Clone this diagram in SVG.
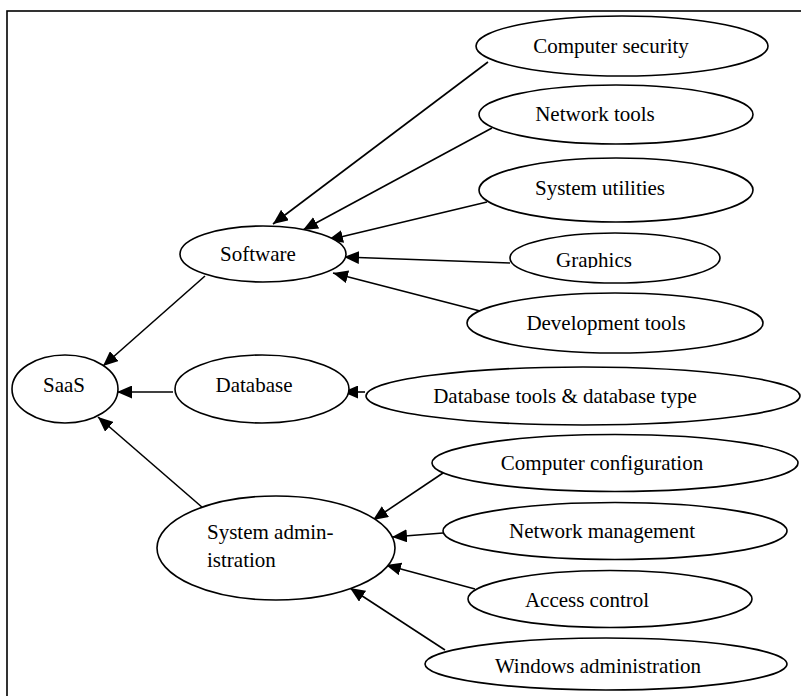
<svg xmlns="http://www.w3.org/2000/svg" width="801" height="696" viewBox="0 0 801 696">
<style>
.n{fill:#fff;stroke:#000;stroke-width:1.6}
.t{font-family:"Liberation Serif","Times New Roman",serif;font-size:21px;fill:#000;text-anchor:middle}
.tl{font-family:"Liberation Serif","Times New Roman",serif;font-size:21px;fill:#000}
.e{stroke:#000;stroke-width:1.6;fill:none;marker-end:url(#ah)}
</style>
<defs>
<marker id="ah" markerUnits="userSpaceOnUse" markerWidth="15" markerHeight="13" refX="15" refY="6.5" orient="auto">
<path d="M0,0 L15,6.5 L0,13 z" fill="#000"/>
</marker>
<clipPath id="gclip"><rect x="500" y="230" width="240" height="38"/></clipPath>
</defs>
<rect x="7" y="11" width="820" height="720" fill="#fff" stroke="#000" stroke-width="1.6"/>
<g id="connectors">
<line class="e" x1="488" y1="62" x2="273" y2="224"/>
<line class="e" x1="492" y1="128" x2="303" y2="230"/>
<line class="e" x1="487" y1="202" x2="328" y2="240"/>
<line class="e" x1="510" y1="263" x2="344" y2="257"/>
<line class="e" x1="480" y1="311" x2="333" y2="273"/>
<line class="e" x1="205" y1="276" x2="103" y2="366"/>
<line class="e" x1="173" y1="392" x2="117" y2="392"/>
<line class="e" x1="203" y1="508" x2="98" y2="417"/>
<line class="e" x1="365" y1="392" x2="343" y2="392"/>
<line class="e" x1="443" y1="473" x2="373" y2="520"/>
<line class="e" x1="443" y1="533" x2="392" y2="537"/>
<line class="e" x1="475" y1="589" x2="386" y2="565"/>
<line class="e" x1="445" y1="650" x2="350" y2="588"/>
</g>
<g id="n-security"><ellipse class="n" cx="622" cy="46" rx="146" ry="30"/><text class="t" x="611" y="53">Computer security</text></g>
<g id="n-nettools"><ellipse class="n" cx="616" cy="114.5" rx="137" ry="29.5"/><text class="t" x="595" y="121">Network tools</text></g>
<g id="n-sysutil"><ellipse class="n" cx="616" cy="190" rx="137" ry="32"/><text class="t" x="600" y="195">System utilities</text></g>
<g id="n-graphics"><ellipse class="n" cx="615" cy="258" rx="105" ry="25"/><text class="t" x="594" y="267" clip-path="url(#gclip)">Graphics</text></g>
<g id="n-devtools"><ellipse class="n" cx="615" cy="323" rx="148" ry="30"/><text class="t" x="606" y="330">Development tools</text></g>
<g id="n-dbtools"><ellipse class="n" cx="583" cy="396" rx="217" ry="29"/><text class="t" x="565" y="403">Database tools &amp; database type</text></g>
<g id="n-compconf"><ellipse class="n" cx="615" cy="463" rx="183" ry="28.5"/><text class="t" x="602" y="470">Computer configuration</text></g>
<g id="n-netmgmt"><ellipse class="n" cx="615" cy="531" rx="172" ry="28.5"/><text class="t" x="602" y="538">Network management</text></g>
<g id="n-access"><ellipse class="n" cx="610" cy="599" rx="142" ry="28.5"/><text class="t" x="587" y="607">Access control</text></g>
<g id="n-winadmin"><ellipse class="n" cx="606" cy="664" rx="181" ry="26"/><text class="t" x="598" y="673">Windows administration</text></g>
<g id="n-software"><ellipse class="n" cx="263" cy="254" rx="83" ry="28"/><text class="t" x="258" y="261">Software</text></g>
<g id="n-saas"><ellipse class="n" cx="65" cy="389" rx="53" ry="34"/><text class="t" x="64" y="392">SaaS</text></g>
<g id="n-database"><ellipse class="n" cx="262" cy="389" rx="87" ry="34"/><text class="t" x="254" y="392">Database</text></g>
<g id="n-sysadmin"><ellipse class="n" cx="276" cy="548" rx="119" ry="52"/><text class="tl" x="207" y="539">System admin-</text><text class="tl" x="207" y="567">istration</text></g>
</svg>
